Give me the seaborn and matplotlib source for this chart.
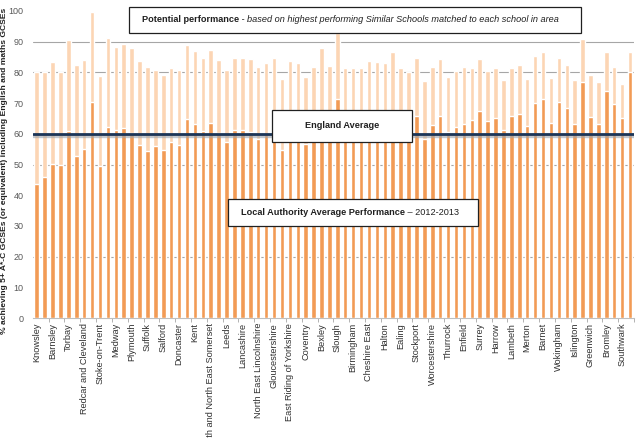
import numpy as np
import seaborn as sns
import matplotlib
matplotlib.use("Agg")
import matplotlib.pyplot as plt
from matplotlib.patches import Rectangle

# labels shown under every second bar
la_labels = ["Knowsley", "Barnsley", "Torbay", "Redcar and Cleveland", "Stoke-on-Trent",
             "Medway", "Plymouth", "Suffolk", "Salford", "Doncaster", "Kent",
             "Bath and North East Somerset", "Leeds", "Lancashire", "North East Lincolnshire",
             "Gloucestershire", "East Riding of Yorkshire", "Coventry", "Bexley", "Slough",
             "Birmingham", "Cheshire East", "Halton", "Ealing", "Stockport", "Worcestershire",
             "Thurrock", "Enfield", "Surrey", "Harrow", "Lambeth", "Merton", "Barnet",
             "Wokingham", "Islington", "Greenwich", "Bromley", "Southwark"]

# % 5+ A*-C incl. English and maths, 2012-2013
actual = [43.6, 46.0, 50.1, 50.0, 60.9, 52.9, 54.9, 70.4, 49.6, 62.3,
          61.2, 62.0, 60.4, 56.5, 54.5, 56.1, 54.7, 57.2, 56.5, 64.9,
          63.2, 60.9, 63.6, 60.2, 57.2, 61.3, 61.2, 60.7, 58.4, 60.0,
          62.0, 54.7, 60.5, 59.0, 56.6, 59.5, 62.0, 60.5, 71.3, 59.5,
          60.5, 60.5, 61.5, 61.0, 60.5, 63.0, 60.5, 59.0, 65.9, 58.3,
          62.9, 65.9, 60.5, 62.1, 63.2, 64.5, 67.4, 64.3, 65.1, 61.1,
          65.8, 66.4, 62.5, 70.1, 71.3, 63.5, 70.4, 68.3, 63.3, 77.0,
          65.4, 63.3, 73.9, 69.7, 65.1, 80.2]

# potential performance (similar schools)
potential = [80.2, 80.0, 83.4, 80.2, 90.4, 82.3, 84.0, 99.7, 78.8, 91.1,
             88.3, 89.3, 87.9, 83.6, 81.7, 80.8, 79.2, 81.4, 80.8, 89.0,
             87.0, 84.8, 87.3, 84.0, 80.8, 84.8, 84.6, 84.3, 81.9, 83.2,
             84.8, 77.7, 83.8, 83.2, 78.6, 81.9, 87.8, 82.2, 92.7, 81.3,
             81.3, 81.5, 83.8, 83.4, 83.2, 86.8, 81.5, 80.2, 84.8, 77.3,
             81.7, 84.3, 78.5, 80.6, 81.7, 81.4, 84.3, 80.6, 81.4, 77.5,
             81.4, 82.3, 78.0, 85.5, 86.5, 78.2, 84.8, 82.3, 77.5, 90.8,
             79.2, 77.0, 86.5, 81.7, 76.2, 86.5]

england_avg = 59.8
grid_vals = [20, 50, 80, 90]

W, H = 637, 438
sns.set_style("white")
plt.rcParams['font.family'] = ['Liberation Sans', 'DejaVu Sans']

fig = plt.figure(figsize=(W / 100, H / 100), dpi=100)
ax = fig.add_axes([32.75 / W, 1 - 318 / H, (634 - 32.75) / W, (318 - 11) / H])

pos = np.arange(len(actual))
for g in grid_vals:
    ax.axhline(g, color='#a6a6a6', lw=0.8, zorder=0)

sns.barplot(x=pos, y=potential, color='#fcd5b4', width=0.57, saturation=1,
            errorbar=None, ax=ax, zorder=2)
sns.barplot(x=pos, y=actual, color='#f29b55', width=0.57, saturation=1,
            errorbar=None, ax=ax, zorder=3)

# England average line with a soft shadow
ax.axhline(england_avg - 0.5, color='#9aa3ad', lw=2.4, zorder=4, alpha=0.6)
ax.axhline(england_avg, color='#1c3557', lw=2.0, zorder=5)

ax.set_xlim(-0.5, len(actual) - 0.5)
ax.set_ylim(0, 100)
ax.set_yticks(np.arange(0, 101, 10))
ax.tick_params(axis='y', length=0, pad=6.5, labelsize=6.5, labelcolor='#595959')
ax.set_xticks(pos[::2])
ax.set_xticklabels(la_labels, rotation=90, fontsize=6.6, color='#303030')
ax.set_xticks(np.arange(1.5, len(actual), 2), minor=True)
ax.tick_params(axis='x', which='major', length=0, pad=3.5)
ax.tick_params(axis='x', which='minor', length=3, color='#a6a6a6', bottom=True)
ax.set_xlabel('')
ax.set_ylabel('')
for s in ['top', 'right', 'left']:
    ax.spines[s].set_visible(False)
ax.spines['bottom'].set_color('#bfbfbf')
ax.spines['bottom'].set_linewidth(0.8)

fig.text(5 / W, 1 - 171 / H,
         '% achieving 5+ A*-C GCSEs (or equivalent) including English and maths GCSEs',
         rotation=90, ha='center', va='center', fontsize=6.1, fontweight='bold', color='#202020')


def px(x, y):
    return x / W, 1 - y / H


def box(x0, y0, x1, y1):
    r = Rectangle(px(x0, y1), (x1 - x0) / W, (y1 - y0) / H, transform=fig.transFigure,
                  facecolor='white', edgecolor='#202020', lw=0.9, zorder=10)
    fig.add_artist(r)


def two_part(x, y, a, a_kw, b, b_kw):
    renderer = fig.canvas.get_renderer()
    t1 = fig.text(*px(x, y), a, ha='left', va='center', zorder=11, **a_kw)
    w = t1.get_window_extent(renderer).width
    fig.text(*px(x + w, y), b, ha='left', va='center', zorder=11, **b_kw)


box(129, 6.7, 581, 33.3)
two_part(142, 20, 'Potential performance', dict(fontsize=6.6, fontweight='bold', color='#202020'),
         ' - based on highest performing Similar Schools matched to each school in area',
         dict(fontsize=6.6, style='italic', color='#202020'))

box(271.7, 110, 411.7, 141.7)
fig.text(*px(341.7, 126), 'England Average', ha='center', va='center', fontsize=6.6,
         fontweight='bold', color='#202020', zorder=11)

box(227.7, 199, 478, 226)
two_part(241, 212.5, 'Local Authority Average Performance',
         dict(fontsize=6.6, fontweight='bold', color='#202020'),
         ' \u2013 2012-2013', dict(fontsize=6.6, color='#202020'))

fig.savefig('out.png', dpi=100)
